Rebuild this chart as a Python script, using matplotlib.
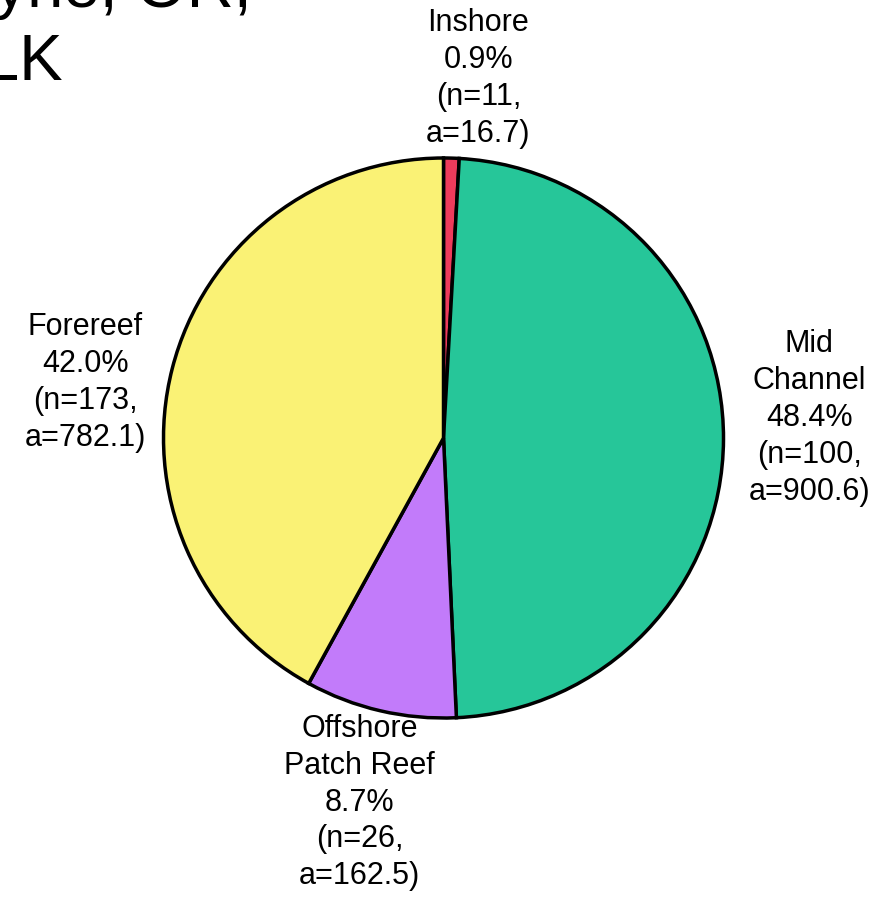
import matplotlib.pyplot as plt

plt.rcParams['font.family'] = ['Liberation Sans', 'DejaVu Sans']

# habitat zones, clockwise from 12 o'clock
zones = ['Inshore', 'Mid\nChannel', 'Offshore\nPatch Reef', 'Forereef']
counts = [11, 100, 26, 173]
areas = [16.7, 900.6, 162.5, 782.1]
colors = ['#EE3B5B', '#26C699', '#C27BFA', '#FAF275']

# where each label block sits (pie radius = 1)
label_pos = [(0.125, 1.285), (1.306, 0.071), (-0.299, -1.302), (-1.279, 0.199)]

W, H, R = 892, 898, 280.0
cx, cy = 443.5, 438.0

fig = plt.figure(figsize=(W / 100, H / 100), dpi=100)
ax = fig.add_axes([0, 0, 1, 1])

total = sum(areas)
labels = ['%s\n%.1f%%\n(n=%d,\na=%.1f)' % (z, 100 * a / total, n, a)
          for z, n, a in zip(zones, counts, areas)]

wedges, texts = ax.pie(areas, colors=colors, labels=labels, startangle=90,
                       counterclock=False, labeldistance=1.3,
                       wedgeprops=dict(edgecolor='black', linewidth=2.5),
                       textprops=dict(fontsize=22, ha='center', va='center',
                                      linespacing=1.3))
for t, p in zip(texts, label_pos):
    t.set_position(p)
    t.set_ha('center')
    t.set_va('center')
    t.set_multialignment('center')

ax.set_xlim(-cx / R, (W - cx) / R)
ax.set_ylim(-(H - cy) / R, cy / R)
ax.set_aspect('auto')
ax.axis('off')

# title runs off the top-left corner
fig.text(252 / W, 1 - 7 / H, 'Wayne, OR,', fontsize=47, ha='right', va='baseline')
fig.text(63 / W, 1 - 80 / H, 'FLK', fontsize=47, ha='right', va='baseline')

fig.savefig('out.png', dpi=100)
